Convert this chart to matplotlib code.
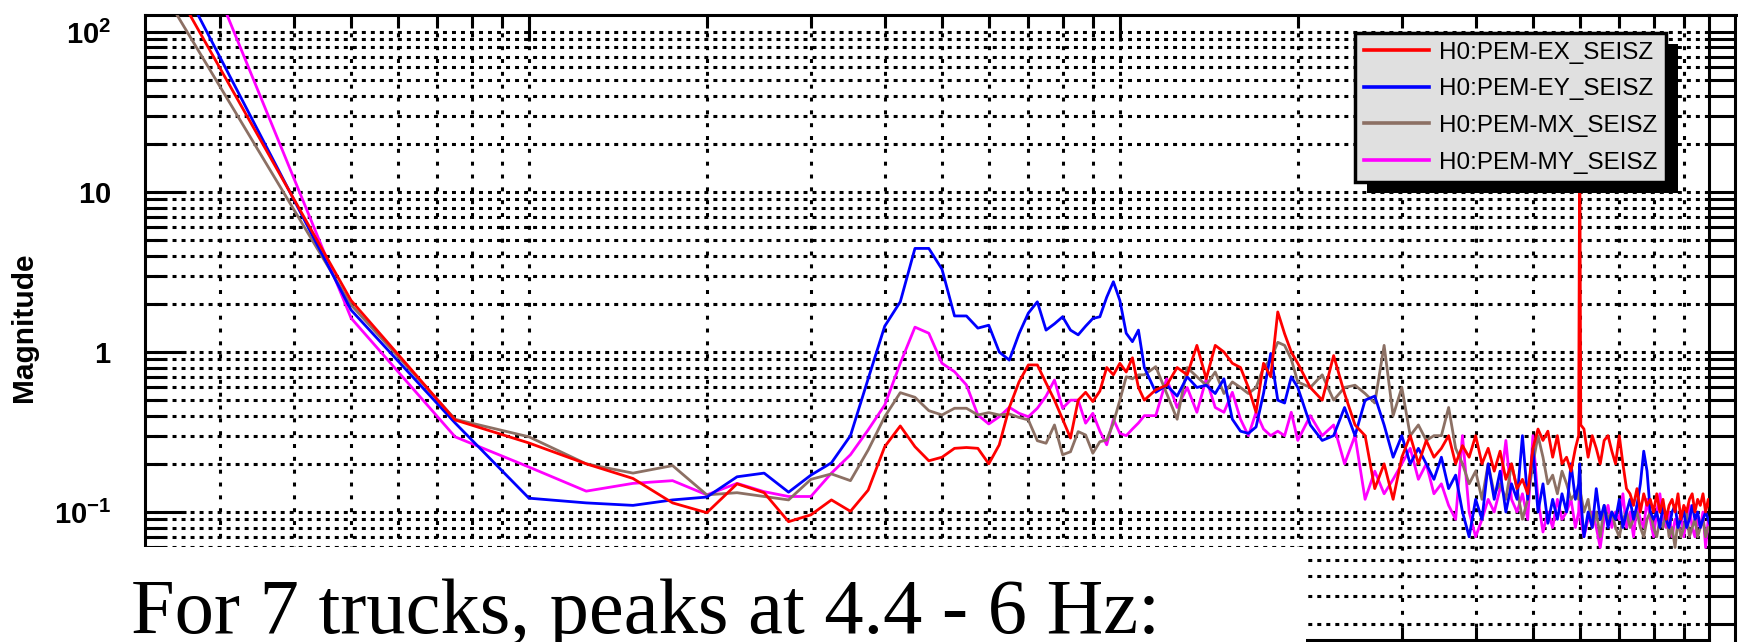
import numpy as np
import matplotlib
matplotlib.use('Agg')
import matplotlib.pyplot as plt
from matplotlib.patches import Rectangle
from matplotlib.lines import Line2D
from matplotlib.ticker import LogLocator, NullFormatter, FixedLocator

plt.rcParams['font.family'] = ['Liberation Sans', 'DejaVu Sans']
plt.rcParams['mathtext.fontset'] = 'custom'
plt.rcParams['mathtext.rm'] = 'Liberation Sans'
plt.rcParams['mathtext.bf'] = 'Liberation Sans:bold'
plt.rcParams['mathtext.it'] = 'Liberation Sans:italic'

# frequency bins (Hz)
freq_lo = np.arange(1, 44) * 0.25            # 0.25 .. 10.75
freq_mid = 11 + np.arange(18) * 0.5          # 11 .. 19.5
freq_hi = np.concatenate([np.arange(20, 60), [59.75, 60, 60.25], np.arange(61, 101)])
freq = np.concatenate([freq_lo, freq_mid, freq_hi])

labels = ['H0:PEM-EX_SEISZ', 'H0:PEM-EY_SEISZ', 'H0:PEM-MX_SEISZ', 'H0:PEM-MY_SEISZ']

# magnitudes
red_lo = [196, 2.1, 0.376, 0.27, 0.2, 0.162, 0.114, 0.099, 0.15, 0.132,
          0.087, 0.096, 0.119, 0.101, 0.137, 0.256, 0.345, 0.256, 0.209, 0.22,
          0.25, 0.253, 0.25, 0.2, 0.263, 0.45, 0.65, 0.83, 0.83, 0.64,
          0.5, 0.38, 0.29, 0.5, 0.56, 0.49, 0.57, 0.8, 0.72, 0.85,
          0.75, 0.92, 0.6]
red_mid = [0.5, 0.58, 0.62, 0.8, 0.72, 1.1, 0.68, 1.1, 1.0, 0.85,
           0.8, 0.6, 0.42, 0.85, 0.7, 1.78, 1.3, 1.0]
red_hi = [0.85, 0.6, 0.5, 0.95, 0.55, 0.35, 0.3, 0.14, 0.2, 0.12,
          0.22, 0.3, 0.2, 0.28, 0.22, 0.25, 0.3, 0.2, 0.26, 0.22,
          0.3, 0.2, 0.25, 0.18, 0.24, 0.16, 0.2, 0.14, 0.16, 0.13,
          0.25, 0.33, 0.28, 0.32, 0.22, 0.3, 0.2, 0.22, 0.18, 0.25,
          0.3, 25, 0.35,
          0.33, 0.22, 0.3, 0.25, 0.2, 0.28, 0.3, 0.24, 0.2, 0.3,
          0.2, 0.14, 0.13, 0.11, 0.14, 0.1, 0.13, 0.11, 0.12, 0.1,
          0.13, 0.1, 0.12, 0.09, 0.11, 0.12, 0.1, 0.13, 0.09, 0.11,
          0.1, 0.12, 0.13, 0.1, 0.12, 0.11, 0.13, 0.1, 0.12, 0.1]

blue_lo = [255, 1.83, 0.36, 0.122, 0.114, 0.11, 0.119, 0.124, 0.166, 0.175,
           0.133, 0.17, 0.203, 0.30, 0.68, 1.45, 2.06, 4.44, 4.44, 3.29,
           1.68, 1.68, 1.41, 1.47, 1.0, 0.89, 1.3, 1.75, 2.06, 1.37,
           1.5, 1.66, 1.37, 1.28, 1.45, 1.62, 1.66, 2.2, 2.75, 2.1,
           1.31, 1.16, 1.37]
blue_mid = [0.8, 0.56, 0.62, 0.53, 0.7, 0.6, 0.62, 0.55, 0.68, 0.38,
            0.32, 0.31, 0.34, 0.55, 0.98, 0.5, 0.48, 0.7]
blue_hi = [0.6, 0.35, 0.28, 0.3, 0.45, 0.3, 0.5, 0.53, 0.35, 0.22,
           0.3, 0.2, 0.25, 0.2, 0.16, 0.22, 0.14, 0.17, 0.1, 0.07,
           0.12, 0.09, 0.2, 0.12, 0.18, 0.1, 0.15, 0.12, 0.3, 0.12,
           0.25, 0.1, 0.15, 0.085, 0.12, 0.09, 0.13, 0.1, 0.2, 0.12,
           0.15, 0.2, 0.12,
           0.07, 0.1, 0.08, 0.14, 0.09, 0.11, 0.08, 0.1, 0.09, 0.12,
           0.08, 0.1, 0.12, 0.09, 0.11, 0.15, 0.24, 0.18, 0.1, 0.09,
           0.1, 0.08, 0.11, 0.09, 0.08, 0.1, 0.11, 0.08, 0.09, 0.1,
           0.08, 0.09, 0.11, 0.09, 0.1, 0.08, 0.09, 0.1, 0.09, 0.08]

brown_lo = [140, 1.97, 0.38, 0.295, 0.2, 0.175, 0.195, 0.128, 0.132, 0.125,
            0.119, 0.16, 0.173, 0.157, 0.244, 0.394, 0.557, 0.521, 0.43, 0.404,
            0.445, 0.445, 0.404, 0.418, 0.404, 0.41, 0.39, 0.376, 0.279, 0.269,
            0.35, 0.228, 0.238, 0.318, 0.303, 0.233, 0.275, 0.282, 0.36, 0.5,
            0.7, 0.68, 0.72]
brown_mid = [0.72, 0.81, 0.55, 0.38, 0.8, 0.7, 0.62, 0.75, 0.55, 0.65,
             0.6, 0.55, 0.6, 0.8, 0.9, 1.15, 1.1, 0.9]
brown_hi = [0.65, 0.6, 0.72, 0.5, 0.6, 0.62, 0.55, 0.48, 1.1, 0.4,
            0.6, 0.3, 0.35, 0.28, 0.3, 0.3, 0.45, 0.25, 0.2, 0.15,
            0.18, 0.12, 0.2, 0.13, 0.15, 0.12, 0.2, 0.14, 0.09, 0.12,
            0.2, 0.3, 0.22, 0.15, 0.17, 0.13, 0.18, 0.15, 0.12, 0.13,
            0.12, 0.2, 0.13,
            0.1, 0.12, 0.08, 0.1, 0.07, 0.11, 0.09, 0.1, 0.08, 0.07,
            0.09, 0.1, 0.08, 0.09, 0.1, 0.08, 0.07, 0.09, 0.1, 0.08,
            0.07, 0.09, 0.08, 0.1, 0.07, 0.08, 0.06, 0.09, 0.07, 0.08,
            0.1, 0.07, 0.08, 0.09, 0.07, 0.08, 0.09, 0.07, 0.08, 0.08]

magenta_lo = [850, 1.63, 0.295, 0.191, 0.135, 0.151, 0.157, 0.128, 0.151, 0.134,
              0.125, 0.125, 0.175, 0.228, 0.326, 0.466, 0.85, 1.43, 1.31, 0.85,
              0.753, 0.622, 0.404, 0.355, 0.394, 0.451, 0.414, 0.394, 0.445, 0.53,
              0.668, 0.445, 0.5, 0.5, 0.359, 0.414, 0.32, 0.263, 0.38, 0.31,
              0.30, 0.33, 0.36]
magenta_mid = [0.4, 0.4, 0.68, 0.45, 0.6, 0.42, 0.68, 0.45, 0.42, 0.56,
               0.38, 0.3, 0.42, 0.33, 0.3, 0.32, 0.3, 0.42]
magenta_hi = [0.28, 0.4, 0.3, 0.35, 0.2, 0.3, 0.12, 0.18, 0.13, 0.16,
              0.2, 0.25, 0.16, 0.2, 0.13, 0.15, 0.11, 0.09, 0.3, 0.1,
              0.07, 0.09, 0.12, 0.1, 0.14, 0.28, 0.12, 0.1, 0.13, 0.09,
              0.3, 0.12, 0.075, 0.1, 0.08, 0.12, 0.09, 0.1, 0.12, 0.08,
              0.1, 0.15, 0.09,
              0.07, 0.09, 0.1, 0.08, 0.06, 0.09, 0.11, 0.08, 0.1, 0.09,
              0.13, 0.08, 0.1, 0.07, 0.11, 0.09, 0.08, 0.12, 0.09, 0.07,
              0.1, 0.13, 0.09, 0.08, 0.1, 0.07, 0.09, 0.08, 0.1, 0.07,
              0.09, 0.11, 0.08, 0.07, 0.09, 0.08, 0.1, 0.06, 0.09, 0.07]

ex = red_lo + red_mid + red_hi
ey = blue_lo + blue_mid + blue_hi
mx = brown_lo + brown_mid + brown_hi
my = magenta_lo + magenta_mid + magenta_hi

colors = ['#ff0000', '#0000ff', '#8c7064', '#ff00ff']

W, H = 1738, 642
fig = plt.figure(figsize=(W / 100, H / 100), dpi=100)
ax = fig.add_axes([145 / W, 1 - 640 / H, (1709 - 145) / W, (640 - 15) / H])

# draw order: magenta, brown, blue, red on top
lines = {}
for key, vals, col, lab in [('my', my, colors[3], labels[3]),
                            ('mx', mx, colors[2], labels[2]),
                            ('ey', ey, colors[1], labels[1]),
                            ('ex', ex, colors[0], labels[0])]:
    lines[key], = ax.plot(freq, vals, color=col, lw=2.0, label=lab, zorder=3)

ax.set_xscale('log')
ax.set_yscale('log')
ax.set_xlim(0.224, 99.3)
ax.set_ylim(0.01585, 127.7)

ax.xaxis.set_major_locator(LogLocator(base=10, numticks=20))
ax.xaxis.set_minor_locator(LogLocator(base=10, subs=np.arange(2, 10), numticks=20))
ax.xaxis.set_minor_formatter(NullFormatter())
ax.yaxis.set_major_locator(FixedLocator([0.1, 1, 10, 100]))
ax.yaxis.set_minor_locator(LogLocator(base=10, subs=np.arange(2, 10), numticks=20))
ax.yaxis.set_minor_formatter(NullFormatter())
ax.set_yticklabels([r'$\mathbf{10^{-1}}$', r'$\mathbf{1}$', r'$\mathbf{10}$', r'$\mathbf{10^{2}}$'])

# dotted grid
ax.xaxis.grid(True, which='both', color='k', lw=2.2, linestyle=(0, (1.3, 2.9)))
ax.yaxis.grid(True, which='both', color='k', lw=2.2, linestyle=(0, (1.3, 1.65)))
ax.set_axisbelow(True)

ax.tick_params(axis='x', which='major', direction='in', length=18.7, width=2.2,
               top=True, bottom=True, labelbottom=False)
ax.tick_params(axis='x', which='minor', direction='in', length=9.4, width=2.2,
               top=True, bottom=True)
ax.tick_params(axis='y', which='major', direction='in', length=29.5, width=2.2,
               left=True, right=False, labelsize=21, pad=24)
ax.tick_params(axis='y', which='minor', direction='in', length=15, width=2.2,
               left=True, right=False)
for sp in ax.spines.values():
    sp.set_linewidth(2.2)

ax.set_ylabel('Magnitude', fontsize=21.5, fontweight='bold')
ax.yaxis.set_label_coords(-0.0684, 0.50)

# right-hand ticks point outward
ax2 = ax.twinx()
ax2.set_yscale('log')
ax2.set_ylim(ax.get_ylim())
ax2.yaxis.set_major_locator(FixedLocator([0.1, 1, 10, 100]))
ax2.yaxis.set_minor_locator(LogLocator(base=10, subs=np.arange(2, 10), numticks=20))
ax2.yaxis.set_minor_formatter(NullFormatter())
ax2.tick_params(axis='y', which='both', direction='out', length=19.4, width=2.2,
                labelright=False)
for sp in ax2.spines.values():
    sp.set_visible(False)

# outer frame bits to the right of the plot
fig.add_artist(Line2D([1708 / W, 1736 / W], [1 - 15 / H] * 2, color='k', lw=2.2,
                      transform=fig.transFigure))
fig.add_artist(Line2D([1735 / W] * 2, [1 - 15 / H, 0], color='k', lw=2.2,
                      transform=fig.transFigure))

handles = [lines['ex'], lines['ey'], lines['mx'], lines['my']]
leg = fig.legend(handles, labels, loc='upper left',
                 bbox_to_anchor=(1355 / W, 1 - 33 / H), bbox_transform=fig.transFigure,
                 borderaxespad=0, fontsize=17.5, frameon=True, fancybox=False,
                 facecolor='#e0e0e0', edgecolor='k', framealpha=1,
                 handlelength=2.7, handletextpad=0.4, labelspacing=0.6, borderpad=0.36)
leg.get_frame().set_linewidth(2.5)
leg.set_zorder(6)
for h in leg.legend_handles:
    h.set_linewidth(2.6)

fig.canvas.draw()
bb = leg.get_window_extent()
fig.add_artist(Rectangle(((bb.x0 + 12) / W, (bb.y0 - 11) / H), bb.width / W, bb.height / H,
                         transform=fig.transFigure, facecolor='k', edgecolor='none', zorder=5.5))

# slide text box covering the lower-left of the plot
fig.add_artist(Rectangle((0, 0), 1306 / W, (H - 547) / H, transform=fig.transFigure,
                         facecolor='white', edgecolor='none', zorder=7))
fig.text(131 / W, 1 - 633 / H, 'For 7 trucks, peaks at 4.4 - 6 Hz:', fontsize=56.5,
         family='Liberation Serif', ha='left', va='baseline', zorder=8)

fig.savefig('out.png', dpi=100)
